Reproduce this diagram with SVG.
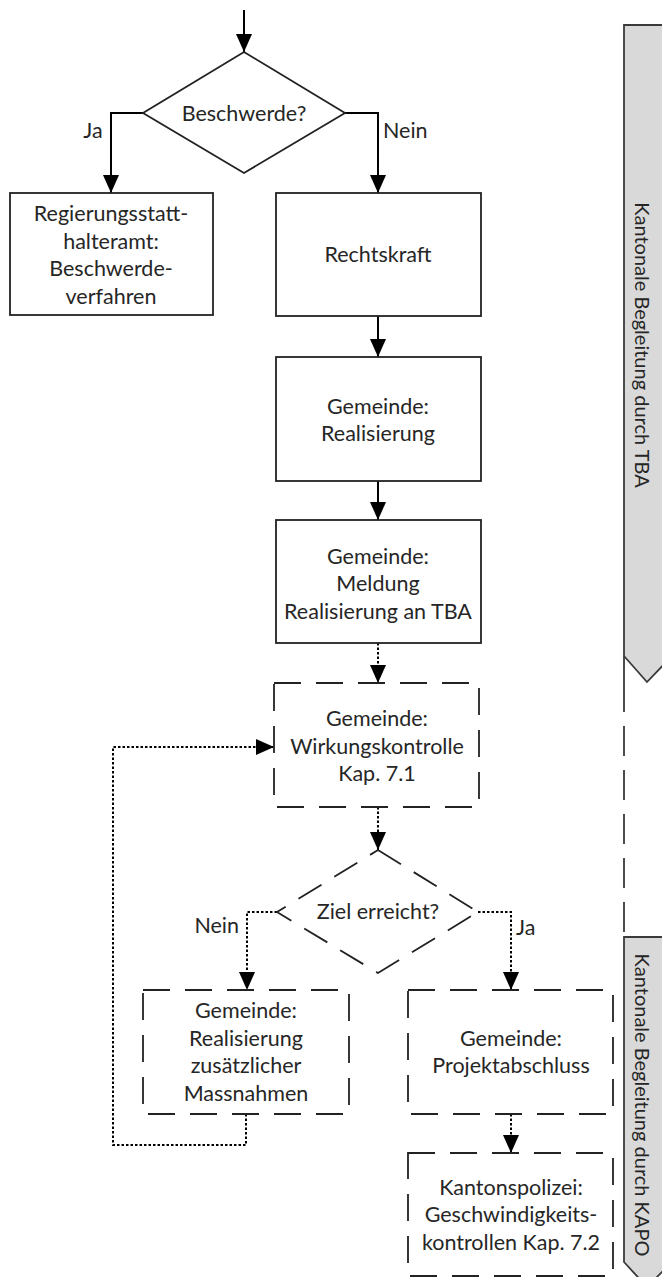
<svg xmlns="http://www.w3.org/2000/svg" width="662" height="1277" viewBox="0 0 662 1277">
<defs>
<marker id="ah" viewBox="0 0 18 16" refX="18" refY="8" markerWidth="18" markerHeight="16" markerUnits="userSpaceOnUse" orient="auto">
<path d="M0,0 L18,8 L0,16 Z" fill="#000"/>
</marker>
<style>
.box{fill:#fff;stroke:#222;stroke-width:1.8}
.dbox{fill:#fff;stroke:#222;stroke-width:1.8;stroke-dasharray:27 15}
.t{font-family:Lato,"Open Sans",sans-serif;font-size:21.5px;fill:#262626;text-anchor:middle}
.lbl{font-family:Lato,"Open Sans",sans-serif;font-size:21.5px;fill:#262626}
.c{fill:none;stroke:#000;stroke-width:2;marker-end:url(#ah)}
.cd{fill:none;stroke:#000;stroke-width:2;stroke-dasharray:2.5 2;marker-end:url(#ah)}
.ban{fill:#d9d9d9;stroke:#3a3a3a;stroke-width:1.8}
.bt{font-family:Lato,"Open Sans",sans-serif;font-size:20px;fill:#262626;text-anchor:middle}
</style>
</defs>
<rect width="662" height="1277" fill="#fff"/>

<g id="banner-tba">
<polygon class="ban" points="624,25 672,25 672,656 647,682 624,656"/>
<line x1="624" y1="656" x2="624" y2="682" stroke="#3a3a3a" stroke-width="1.8"/>
<text class="bt" transform="translate(643,345) rotate(90)" dominant-baseline="central">Kantonale Begleitung durch TBA</text>
</g>
<g id="banner-kapo">
<polygon class="ban" points="624,937 672,937 672,1262 647,1287 624,1262"/>
<text class="bt" transform="translate(643,1105) rotate(90)" dominant-baseline="central">Kantonale Begleitung durch KAPO</text>
</g>

<g id="connectors">
<line class="c" x1="244" y1="10" x2="244" y2="52"/>
<polyline class="c" points="143,113 111,113 111,193"/>
<polyline class="c" points="345,113 378,113 378,193"/>
<line class="c" x1="378" y1="316" x2="378" y2="357"/>
<line class="c" x1="378" y1="481" x2="378" y2="520"/>
<line class="cd" x1="378" y1="643" x2="378" y2="683"/>
<line class="cd" x1="378" y1="807" x2="378" y2="850"/>
<polyline class="cd" points="277,912 247,912 247,990"/>
<polyline class="cd" points="478,912 511,912 511,990"/>
<line class="cd" x1="511" y1="1114" x2="511" y2="1153"/>
<polyline class="cd" points="246,1114 246,1145 113,1145 113,747 274,747"/>
<line x1="624" y1="682" x2="624" y2="937" stroke="#3a3a3a" stroke-width="1.8" stroke-dasharray="30 14"/>
<text class="lbl" x="93" y="137.5" text-anchor="middle">Ja</text>
<text class="lbl" x="383" y="137.5">Nein</text>
<text class="lbl" x="239" y="932.5" text-anchor="end">Nein</text>
<text class="lbl" x="516" y="934.5">Ja</text>
</g>

<g id="beschwerde">
<polygon class="box" points="244,52 345,113 244,173 143,113"/>
<text class="t" x="244" y="120.5">Beschwerde?</text>
</g>
<g id="regierung">
<rect class="box" x="10" y="193" width="203" height="122"/>
<text class="t" x="111" y="221">Regierungsstatt-</text>
<text class="t" x="111" y="248.5">halteramt:</text>
<text class="t" x="111" y="276">Beschwerde-</text>
<text class="t" x="111" y="303.5">verfahren</text>
</g>
<g id="rechtskraft">
<rect class="box" x="276" y="193" width="205" height="123"/>
<text class="t" x="378" y="262">Rechtskraft</text>
</g>
<g id="realisierung">
<rect class="box" x="276" y="357" width="205" height="124"/>
<text class="t" x="378" y="414">Gemeinde:</text>
<text class="t" x="378" y="441">Realisierung</text>
</g>
<g id="meldung">
<rect class="box" x="276" y="520" width="205" height="123"/>
<text class="t" x="378" y="563.5">Gemeinde:</text>
<text class="t" x="378" y="591">Meldung</text>
<text class="t" x="378" y="618.5">Realisierung an TBA</text>
</g>
<g id="wirkungskontrolle">
<rect class="dbox" x="274" y="683" width="205" height="124"/>
<text class="t" x="377" y="725.5">Gemeinde:</text>
<text class="t" x="377" y="753.5">Wirkungskontrolle</text>
<text class="t" x="377" y="780.5">Kap. 7.1</text>
</g>
<g id="ziel">
<polygon class="dbox" points="378,850 478,912 378,973 277,912"/>
<text class="t" x="378" y="918.5">Ziel erreicht?</text>
</g>
<g id="zusaetzlich">
<rect class="dbox" x="143" y="990" width="206" height="124"/>
<text class="t" x="246" y="1018">Gemeinde:</text>
<text class="t" x="246" y="1045.5">Realisierung</text>
<text class="t" x="246" y="1073">zusätzlicher</text>
<text class="t" x="246" y="1100.5">Massnahmen</text>
</g>
<g id="projektabschluss">
<rect class="dbox" x="408" y="990" width="205" height="124"/>
<text class="t" x="511" y="1045.5">Gemeinde:</text>
<text class="t" x="511" y="1073">Projektabschluss</text>
</g>
<g id="kantonspolizei">
<rect class="dbox" x="408" y="1153" width="205" height="123"/>
<text class="t" x="511" y="1194.5">Kantonspolizei:</text>
<text class="t" x="511" y="1222">Geschwindigkeits-</text>
<text class="t" x="511" y="1249.5">kontrollen Kap. 7.2</text>
</g>
</svg>
